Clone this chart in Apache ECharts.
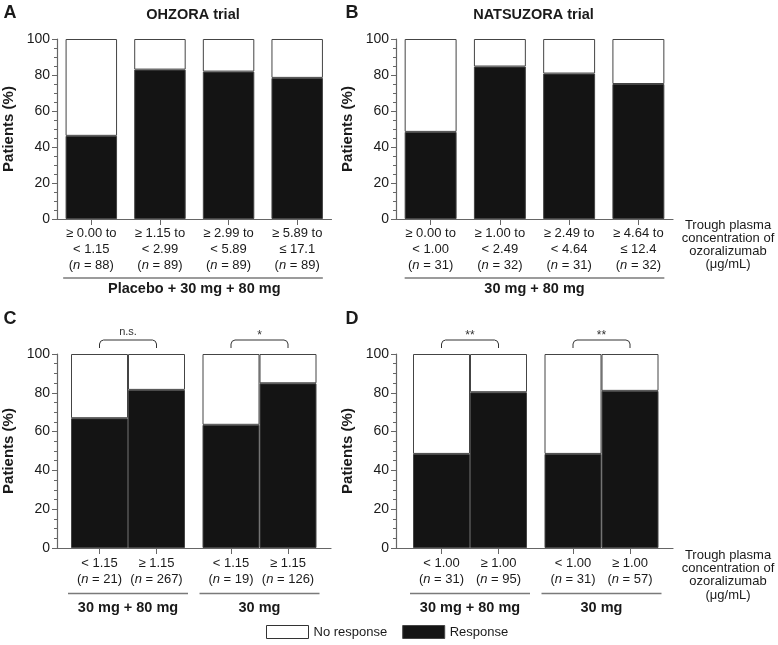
<!DOCTYPE html>
<html>
<head>
<meta charset="utf-8">
<script src="https://cdn.jsdelivr.net/npm/echarts@6/dist/echarts.min.js"></script>
<style>html,body{margin:0;padding:0;background:#fff}#main{width:778px;height:645px}</style>
</head>
<body>
<div id="main"></div>
<script>
// A: OHZORA trial, quartiles of trough concentration
var ohzoraBins = ['≥ 0.00 to\n< 1.15', '≥ 1.15 to\n< 2.99', '≥ 2.99 to\n< 5.89', '≥ 5.89 to\n≤ 17.1'];
var ohzoraN = [88, 89, 89, 89];
var ohzoraResponse = [46.2, 83.0, 81.9, 78.4];

// B: NATSUZORA trial
var natsuBins = ['≥ 0.00 to\n< 1.00', '≥ 1.00 to\n< 2.49', '≥ 2.49 to\n< 4.64', '≥ 4.64 to\n≤ 12.4'];
var natsuN = [31, 32, 31, 32];
var natsuResponse = [48.4, 84.7, 80.8, 75.0];

// C: OHZORA split at 1.15
var ohzoraCut = ['< 1.15', '≥ 1.15'];
var ohzora3080N = [21, 267];
var ohzora3080Response = [66.9, 81.5];
var ohzora30N = [19, 126];
var ohzora30Response = [63.5, 84.9];

// D: NATSUZORA split at 1.00
var natsuCut = ['< 1.00', '≥ 1.00'];
var natsu3080N = [31, 95];
var natsu3080Response = [48.5, 80.3];
var natsu30N = [31, 57];
var natsu30Response = [48.5, 81.0];

var sigC = ['n.s.', '*'];
var sigD = ['**', '**'];

var FONT = '"Liberation Sans", Arial, sans-serif';
var AXIS_COLOR = '#666';
var BAR_DARK = '#141414';
var BORDER = '#444';
var TEXT = '#1a1a1a';

var chart = echarts.init(document.getElementById('main'));
var grids = [], xAxes = [], yAxes = [], series = [], graphics = [];

function nLabel(n) {
  return '({i|n} = ' + n + ')';
}

function visibleY(gi) {
  return {
    type: 'value', gridIndex: gi, min: 0, max: 100, interval: 20,
    axisLine: { show: true, lineStyle: { color: AXIS_COLOR, width: 1.2 } },
    axisTick: { show: true, length: 5, lineStyle: { color: AXIS_COLOR } },
    minorTick: { show: true, splitNumber: 4, length: 3, lineStyle: { color: AXIS_COLOR } },
    splitLine: { show: false },
    axisLabel: { fontSize: 14, color: TEXT, margin: 7, fontFamily: FONT },
    name: 'Patients (%)', nameLocation: 'middle', nameGap: 41,
    nameTextStyle: { fontSize: 15, fontWeight: 'bold', color: TEXT, fontFamily: FONT }
  };
}

function labelAxis(gi, cats, ns, name, nameGap, margin) {
  return {
    type: 'category', gridIndex: gi, data: cats,
    axisLine: { show: true, lineStyle: { color: AXIS_COLOR, width: 1.2 } },
    axisTick: { show: true, alignWithLabel: true, length: 6, lineStyle: { color: AXIS_COLOR } },
    axisLabel: {
      interval: 0, margin: margin, fontSize: 13, lineHeight: 16, color: TEXT, fontFamily: FONT,
      formatter: function (v, i) { return v + '\n' + nLabel(ns[i]); },
      rich: { i: { fontStyle: 'italic', fontSize: 13, lineHeight: 16, color: TEXT, fontFamily: FONT } }
    },
    name: name, nameLocation: 'middle', nameGap: nameGap,
    nameTextStyle: { fontSize: 14.5, fontWeight: 'bold', color: TEXT, fontFamily: FONT }
  };
}

function addBars(gi, resp, gap) {
  series.push({
    type: 'bar', name: 'Response', xAxisIndex: gi, yAxisIndex: gi, stack: 's' + gi,
    barCategoryGap: gap, data: resp,
    itemStyle: { color: BAR_DARK, borderColor: BORDER, borderWidth: 1 }
  });
  series.push({
    type: 'bar', name: 'No response', xAxisIndex: gi, yAxisIndex: gi, stack: 's' + gi,
    barCategoryGap: gap, data: resp.map(function (v) { return +(100 - v).toFixed(1); }),
    itemStyle: { color: '#fff', borderColor: BORDER, borderWidth: 1 }
  });
}

function grayLine(x1, x2, y) {
  graphics.push({ type: 'line', silent: true, shape: { x1: x1, y1: y, x2: x2, y2: y },
    style: { stroke: '#7a7a7a', lineWidth: 1.6 } });
}

function text(x, y, str, size, weight, extra) {
  var st = { text: str, fill: TEXT, font: (weight || 'normal') + ' ' + size + 'px ' + FONT,
    align: 'center', verticalAlign: 'middle' };
  for (var k in extra) st[k] = extra[k];
  graphics.push({ type: 'text', silent: true, x: x, y: y, style: st });
}

function quartilePanel(left, bins, ns, resp, groupName) {
  var gi = grids.length;
  var w = 277;
  grids.push({ left: left, top: 39, width: w, height: 180 });
  xAxes.push(labelAxis(gi, bins, ns, groupName, 62, 6));
  yAxes.push(visibleY(gi));
  addBars(gi, resp, '25%');
  var cw = w / 4, pad = cw * 0.125;
  grayLine(left + pad, left + w - pad, 278);
}

function cutoffPanel(left, cuts, groups, sigs) {
  var top = 354, h = 194, gw = 114;
  var gi = grids.length;
  grids.push({ left: left, top: top, width: 277, height: h });
  xAxes.push({ type: 'category', gridIndex: gi, data: [''],
    axisLine: { show: true, lineStyle: { color: AXIS_COLOR, width: 1.2 } },
    axisTick: { show: false }, axisLabel: { show: false } });
  yAxes.push(visibleY(gi));
  var offsets = [17, 148.5];
  groups.forEach(function (g, k) {
    var gl = left + offsets[k];
    var idx = grids.length;
    grids.push({ left: gl, top: top, width: gw, height: h });
    var ax = labelAxis(idx, cuts, g.n, g.name, 52, 7);
    ax.axisLine.show = false;
    xAxes.push(ax);
    yAxes.push({ type: 'value', gridIndex: idx, min: 0, max: 100, show: false });
    addBars(idx, g.resp, '0%');
    grayLine(gl - 3, gl + gw + 3, 593.5);
    // significance bracket between the two bar centres
    var x1 = gl + gw / 4, x2 = gl + gw * 3 / 4, yt = 340, yb = 348;
    graphics.push({ type: 'polyline', silent: true,
      shape: { points: [[x1, yb], [x1, yt + 4], [x1 + 1.2, yt + 1.2], [x1 + 4, yt], [x2 - 4, yt],
        [x2 - 1.2, yt + 1.2], [x2, yt + 4], [x2, yb]] },
      style: { stroke: '#333', lineWidth: 1, fill: null } });
    var s = sigs[k];
    text((x1 + x2) / 2, s.indexOf('*') >= 0 ? 336 : 332, s, s.indexOf('*') >= 0 ? 12 : 11, 'normal', { fill: '#333' });
  });
}

quartilePanel(54.5, ohzoraBins, ohzoraN, ohzoraResponse, 'Placebo + 30 mg + 80 mg');
quartilePanel(396, natsuBins, natsuN, natsuResponse, '30 mg + 80 mg');
cutoffPanel(54, ohzoraCut, [
  { name: '30 mg + 80 mg', n: ohzora3080N, resp: ohzora3080Response },
  { name: '30 mg', n: ohzora30N, resp: ohzora30Response }
], sigC);
cutoffPanel(396, natsuCut, [
  { name: '30 mg + 80 mg', n: natsu3080N, resp: natsu3080Response },
  { name: '30 mg', n: natsu30N, resp: natsu30Response }
], sigD);

// panel letters and titles
text(10, 13, 'A', 18, 'bold');
text(352, 13, 'B', 18, 'bold');
text(10, 319, 'C', 18, 'bold');
text(352, 319, 'D', 18, 'bold');
text(193, 15, 'OHZORA trial', 14.5, 'bold');
text(533.5, 15, 'NATSUZORA trial', 14.5, 'bold');

var unitText = 'Trough plasma\nconcentration of\nozoralizumab\n(μg/mL)';
text(728, 218.5, unitText, 13, 'normal', { verticalAlign: 'top', lineHeight: 13 });
text(728, 548.5, unitText, 13, 'normal', { verticalAlign: 'top', lineHeight: 13.3 });

var option = {
  animation: false,
  textStyle: { fontFamily: FONT },
  grid: grids,
  xAxis: xAxes,
  yAxis: yAxes,
  series: series,
  legend: {
    left: 266, top: 625, padding: 0, itemWidth: 42, itemHeight: 13, itemGap: 15,
    selectedMode: false,
    textStyle: { fontSize: 13, color: TEXT, fontFamily: FONT },
    data: [
      { name: 'No response', icon: 'rect', itemStyle: { color: '#fff', borderColor: '#333', borderWidth: 1 } },
      { name: 'Response', icon: 'rect', itemStyle: { color: BAR_DARK, borderColor: BORDER, borderWidth: 1 } }
    ]
  },
  graphic: graphics
};

chart.setOption(option);
</script>
</body>
</html>
